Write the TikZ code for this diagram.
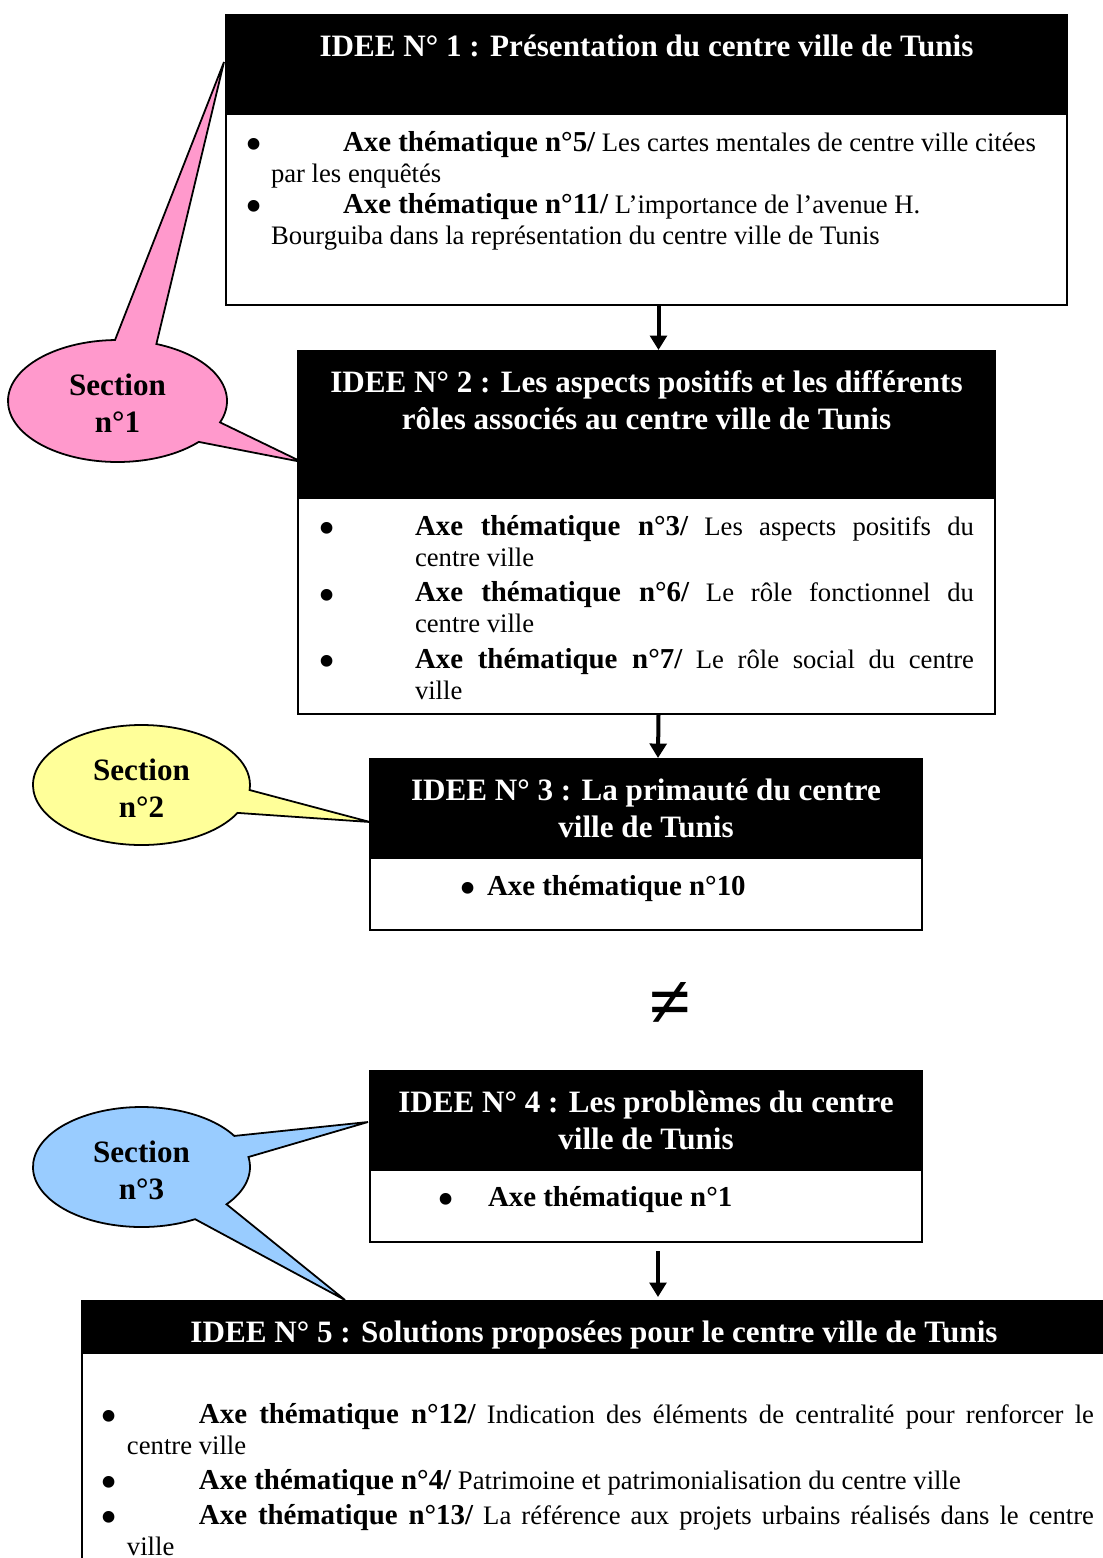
\documentclass[tikz,border=0pt]{standalone}
\usepackage{fontspec}
\setmainfont{Liberation Serif}
\usetikzlibrary{arrows.meta,positioning,calc}

\newdimen\pxu \pxu=0.45pt
\definecolor{secpink}{HTML}{FF99CC}
\definecolor{secyellow}{HTML}{FFFF99}
\definecolor{secblue}{HTML}{99CCFF}

\newcommand{\headtext}[3]{\parbox[t][#1\pxu][t]{#2\pxu}{\fontsize{14}{16.65}\selectfont\bfseries\centering\rule{0pt}{41\pxu}#3\par}}
\newcommand{\bodytext}[3]{\parbox[t][#1\pxu][t]{#2\pxu}{\fontsize{12}{13.95}\selectfont\hyphenpenalty=10000\exhyphenpenalty=10000\relax #3\par}}
\newcommand{\axe}[1]{{\fontsize{13}{13.95}\selectfont\bfseries Axe thématique #1}}
\newcommand{\gros}{\hspace*{-4\pxu}\raisebox{-4.3pt}[0pt][0pt]{\fontsize{22}{22}\selectfont\textbullet}}
\newcommand{\puce}[2]{\hspace*{-#1\pxu}\makebox[#2\pxu][l]{\gros}}

\begin{document}
\begin{tikzpicture}[x=0.45pt, y=-0.45pt,
    head/.style={fill=black, draw=black, line width=0.9pt, text=white, inner sep=0pt, anchor=north west},
    body/.style={draw=black, line width=0.9pt, fill=white, inner sep=0pt},
    flow/.style={line width=1.8pt, -{Triangle[width=7.5pt,length=6.5pt]}},
    bulle/.style={draw=black, line width=0.8pt},
    sectext/.style={align=center, font=\fontsize{14}{16.65}\selectfont\bfseries}]
    \useasboundingbox (0,0) rectangle (1103,1558);
    \clip (0,0) rectangle (1103,1558);

    % Section balloons
    \draw[bulle, fill=secpink] (117.5,401) ++(-69.2:109.5 and 61)
      arc[start angle=-69.2, end angle=20.5, x radius=109.5, y radius=61]
      -- (302,462) -- ($(117.5,401)+(42.1:109.5 and 61)$)
      arc[start angle=42.1, end angle=268.7, x radius=109.5, y radius=61]
      -- (224,62) -- cycle;
    \node[sectext] (sec1) at (117.5,403) {Section\\n°1};

    \draw[bulle, fill=secyellow] (141.5,785) ++(27.7:108.5 and 60)
      arc[start angle=27.7, end angle=364.8, x radius=108.5, y radius=60]
      -- (370,822) -- cycle;
    \node[sectext] (sec2) at (141.5,788) {Section\\n°2};

    \draw[bulle, fill=secblue] (141.5,1167) ++(-9.6:108.5 and 60)
      arc[start angle=-9.6, end angle=38.4, x radius=108.5, y radius=60]
      -- (345,1300) -- ($(141.5,1167)+(60.4:108.5 and 60)$)
      arc[start angle=60.4, end angle=328.8, x radius=108.5, y radius=60]
      -- (368,1122) -- cycle;
    \node[sectext] (sec3) at (141.5,1170) {Section\\n°3};

    % Idee 1
    \node[head] (head1) at (225,14) {\headtext{97}{841}{IDEE N° 1 : Présentation du centre ville de Tunis}};
    \node[body, below=0pt of head1] (body1) {\bodytext{191}{841}{\raggedright\leftskip=45\pxu\relax
      \rule{0pt}{37\pxu}\puce{22}{94}\axe{n°5/} Les cartes mentales de centre ville citées\newline par les enquêtés\par
      \puce{22}{94}\axe{n°11/} L’importance de l’avenue H.\newline Bourguiba dans la représentation du centre ville de Tunis}};

    % Idee 2
    \node[head] (head2) at (297,350) {\headtext{145}{697}{IDEE N° 2 : Les aspects positifs et les différents\\rôles associés au centre ville de Tunis}};
    \node[body, below=0pt of head2] (body2) {\bodytext{216}{697}{\leftskip=117\pxu\rightskip=21\pxu\parskip=4.5\pxu\relax
      \rule{0pt}{37\pxu}\puce{93}{93}\axe{n°3/} Les aspects positifs du\linebreak centre ville\par
      \puce{93}{93}\axe{n°6/} Le rôle fonctionnel du\linebreak centre ville\par
      \puce{93}{93}\axe{n°7/} Le rôle social du centre\linebreak ville}};

    % Idee 3
    \node[head] (head3) at (369,758) {\headtext{97}{552}{IDEE N° 3 : La primauté du centre\\ville de Tunis}};
    \node[body, below=0pt of head3] (body3) {\bodytext{72}{552}{\rule{0pt}{37\pxu}\hspace*{93\pxu}\makebox[24\pxu][l]{\gros}\axe{n°10}}};

    % Idee 4
    \node[head] (head4) at (369,1070) {\headtext{97}{552}{IDEE N° 4 : Les problèmes du centre\\ville de Tunis}};
    \node[body, below=0pt of head4] (body4) {\bodytext{72}{552}{\rule{0pt}{36\pxu}\hspace*{71\pxu}\makebox[47\pxu][l]{\gros}\axe{n°1}}};

    % Idee 5
    \node[head] (head5) at (81,1300) {\headtext{50}{1024}{IDEE N° 5 : Solutions proposées pour le centre ville de Tunis}};
    \node[body, below=0pt of head5] (body5) {\bodytext{260}{1024}{\leftskip=45\pxu\rightskip=12\pxu\parskip=4\pxu\relax
      \rule{0pt}{70\pxu}\puce{22}{94}\axe{n°12/} Indication des éléments de centralité pour renforcer le\linebreak centre ville\par
      \puce{22}{94}\axe{n°4/} Patrimoine et patrimonialisation du centre ville\par
      \puce{22}{94}\axe{n°13/} La référence aux projets urbains réalisés dans le centre\linebreak ville}};

    % Arrows
    \draw[flow] ($(body1.south)+(12,0)$) -- ($(head2.north)+(12,0)$);
    \draw[flow] ($(body2.south)+(12,0)$) -- ($(head3.north)+(12,0)$);
    \coordinate (a4) at ($(body4.south)+(12,8)$);
    \draw[flow, shorten >=1.35pt] (a4) -- (head5.north -| a4);

    \node[font=\fontsize{34}{40}\selectfont\bfseries] (diff) at (670,1005) {≠};
\end{tikzpicture}
\end{document}
